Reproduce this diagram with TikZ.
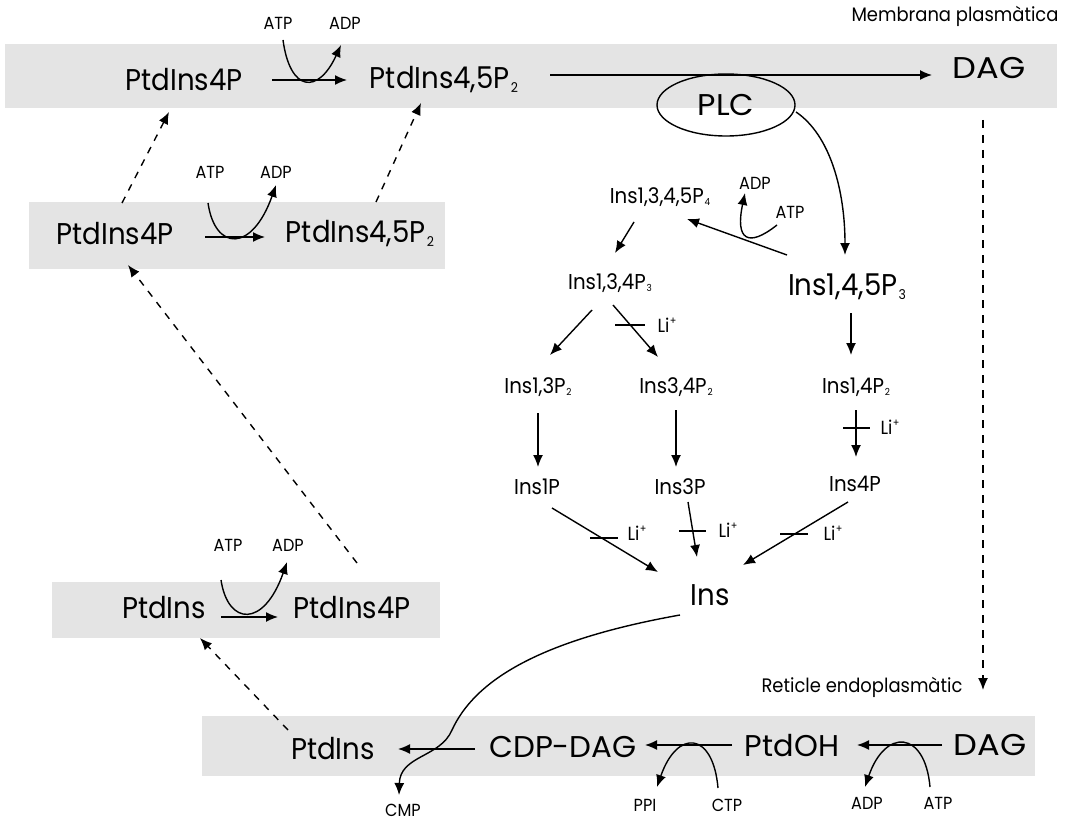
\documentclass[tikz,border=0pt]{standalone}
\usepackage{graphicx}
\usepackage{fontspec}
\setmainfont{Poppins}[FakeStretch=0.92]
\usetikzlibrary{arrows.meta,shapes.geometric,calc}
\definecolor{bandgray}{RGB}{228,228,228}
\newcommand{\sbs}[1]{\kern0.04em\raisebox{-0.12em}{\scalebox{0.45}{#1}}}
\newcommand{\sps}[1]{\kern0.03em\raisebox{0.42em}{\scalebox{0.55}{#1}}}
\newcommand{\wide}[2]{\scalebox{#1}[1]{#2}}
\begin{document}
\begin{tikzpicture}[x=1pt,y=-1pt,
 big/.style={font=\fontsize{30}{32}\selectfont, inner sep=0pt},
 mid/.style={font=\fontsize{21.5}{23}\selectfont, inner sep=0pt},
 sml/.style={font=\fontsize{17.5}{19}\selectfont, inner sep=0pt},
 lis/.style={font=\fontsize{19}{21}\selectfont, inner sep=0pt},
 lbl/.style={font=\fontsize{19.5}{21}\selectfont, inner sep=0pt},
 arr/.style={-{Latex[length=12pt,width=10pt]}, line width=1.4pt},
 dsh/.style={arr, dash pattern=on 7pt off 7pt},
 barline/.style={line width=1.4pt},
 band/.style={fill=bandgray}]
\useasboundingbox (0,0) rectangle (1075,821);
\fill[white] (0,0) rectangle (1075,821);
% bands
\fill[band] (5,44) rectangle (1057,108);
\fill[band] (29,202) rectangle (445,269);
\fill[band] (52,582) rectangle (440,638);
\fill[band] (202,716) rectangle (1035,776);
% labels
\node[lbl] (memb) at (955,16) {Membrana plasmàtica};
\node[sml] (atp1) at (278,23) {ATP};
\node[sml] (adp1) at (345,23) {ADP};
\node[big] (p1a) at (184,80) {PtdIns4P};
\node[big] (p1b) at (444,80) {PtdIns4,5P\sbs{2}};
\node[big] (dag1) at (989,68) {\wide{1.22}{DAG}};
\node[big, draw, ellipse, line width=1.4pt, minimum width=138pt, minimum height=62pt] (plc) at (726,105) {\wide{1.15}{PLC}};
\node[sml] (atp2) at (210,172) {ATP};
\node[sml] (adp2) at (276,172) {ADP};
\node[big] (p2a) at (115,234) {PtdIns4P};
\node[big] (p2b) at (360,234) {PtdIns4,5P\sbs{2}};
\node[mid] (ins1345) at (660,197) {Ins1,3,4,5P\sbs{4}};
\node[sml] (adp5) at (755,183) {ADP};
\node[sml] (atp5) at (790,212) {ATP};
\node[mid] (ins134) at (610,283) {Ins1,3,4P\sbs{3}};
\node[big] (ins145) at (847,287) {Ins1,4,5P\sbs{3}};
\node[mid] (ins13P2) at (538,387) {Ins1,3P\sbs{2}};
\node[mid] (ins34P2) at (676,387) {Ins3,4P\sbs{2}};
\node[mid] (ins14P2) at (856,387) {Ins1,4P\sbs{2}};
\node[lis] (li1) at (667,325) {Li\sps{+}};
\node[lis] (li2) at (890,427) {Li\sps{+}};
\node[mid] (ins1P) at (537,487) {Ins1P};
\node[mid] (ins3P) at (680,487) {Ins3P};
\node[mid] (ins4P) at (855,484) {Ins4P};
\node[lis] (li3) at (637,533) {Li\sps{+}};
\node[lis] (li4) at (728,530) {Li\sps{+}};
\node[lis] (li5) at (833,533) {Li\sps{+}};
\node[big] (ins) at (710,595) {Ins};
\node[sml] (atp3) at (228,545) {ATP};
\node[sml] (adp3) at (288,545) {ADP};
\node[big] (p3a) at (164,608) {PtdIns};
\node[big] (p3b) at (352,608) {PtdIns4P};
\node[lbl] (retic) at (862,687) {Reticle endoplasmàtic};
\node[big] (p4a) at (333,749) {PtdIns};
\node[big] (cdp) at (563,747) {\wide{1.12}{CDP-DAG}};
\node[big] (ptdoh) at (792,746) {\wide{1.1}{PtdOH}};
\node[big] (dag4) at (990,745) {\wide{1.22}{DAG}};
\node[sml] (cmp) at (403,810) {CMP};
\node[sml] (ppi) at (645,805) {PPI};
\node[sml] (ctp) at (727,805) {CTP};
\node[sml] (adp4) at (867,803) {ADP};
\node[sml] (atp4) at (938,803) {ATP};
% row 1
\draw[arr] ($(p1a)+(88,0)$) -- ($(p1b)+(-97,0)$);
\draw[arr] ($(atp1)+(5,17)$) .. controls (290,92) and (318,95) .. ($(adp1)+(-4,22)$);
\draw[arr] ($(p1b)+(106,-5)$) -- ($(dag1)+(-57,7)$);
% row 2
\draw[arr] ($(p2a)+(90,3)$) -- ($(p2b)+(-95,3)$);
\draw[arr] ($(atp2)+(-2,31)$) .. controls (215,251) and (252,253) .. ($(adp2)+(0,13)$);
% row 3
\draw[arr] ($(p3a)+(57,9)$) -- ($(p3b)+(-74,9)$);
\draw[arr] ($(atp3)+(-7,35)$) .. controls (228,626) and (264,628) .. ($(adp3)+(-1,17)$);
% row 4
\draw[arr] ($(dag4)+(-48,0)$) -- ($(ptdoh)+(65,-1)$);
\draw[arr] ($(ptdoh)+(-60,-1)$) -- ($(cdp)+(82,-2)$);
\draw[arr] ($(cdp)+(-88,2)$) -- ($(p4a)+(65,0)$);
\draw[arr] ($(atp4)+(-8,-16)$) .. controls (925,730) and (885,728) .. ($(adp4)+(-2,-16)$);
\draw[arr] ($(ctp)+(-9,-17)$) .. controls (713,731) and (677,729) .. ($(ppi)+(12,-18)$);
\draw[arr] ($(ins)+(-30,20)$) .. controls (540,640) and (475,680) .. (452,730) .. controls (440,758) and (400,755) .. ($(cmp)+(-4,-15)$);
% dashed transfers
\draw[dsh] ($(p2a)+(7,-31)$) -- ($(p1a)+(-15,32)$);
\draw[dsh] ($(p2b)+(16,-32)$) -- ($(p1b)+(-23,23)$);
\draw[dsh] ($(p3b)+(5,-45)$) -- ($(p2a)+(13,31)$);
\draw[dsh] ($(p4a)+(-45,-19)$) -- ($(p3a)+(36,30)$);
\draw[arr, dash pattern=on 8pt off 7pt] ($(dag1)+(-6,52)$) -- ($(dag4)+(-7,-55)$);
% inositol phosphate network
\draw[arr] ($(plc)+(70,7)$) .. controls (830,135) and (845,190) .. ($(ins145)+(-2,-32)$);
\draw[arr] ($(ins145)+(-60,-32)$) -- ($(ins1345)+(27,22)$);
\draw[arr] ($(atp5)+(-13,13)$) .. controls (748,248) and (735,240) .. ($(adp5)+(-10,10)$);
\draw[arr] ($(ins1345)+(-26,25)$) -- ($(ins134)+(5,-30)$);
\draw[arr] ($(ins134)+(-18,27)$) -- ($(ins13P2)+(12,-32)$);
\draw[arr] ($(ins134)+(3,22)$) -- ($(ins34P2)+(-18,-30)$);
\draw[barline] ($(li1)+(-52,0)$) -- ($(li1)+(-22,0)$);
\draw[arr] ($(ins145)+(4,26)$) -- ($(ins14P2)+(-5,-32)$);
\draw[arr] ($(ins13P2)+(0,26)$) -- ($(ins1P)+(1,-20)$);
\draw[arr] ($(ins34P2)+(0,23)$) -- ($(ins3P)+(-4,-20)$);
\draw[arr] ($(ins14P2)+(0,23)$) -- ($(ins4P)+(1,-27)$);
\draw[barline] ($(li2)+(-47,1)$) -- ($(li2)+(-20,1)$);
\draw[arr] ($(ins1P)+(15,21)$) -- ($(ins)+(-52,-23)$);
\draw[barline] ($(li3)+(-47,5)$) -- ($(li3)+(-19,5)$);
\draw[arr] ($(ins3P)+(8,15)$) -- ($(ins)+(-13,-38)$);
\draw[barline] ($(li4)+(-49,1)$) -- ($(li4)+(-22,1)$);
\draw[arr] ($(ins4P)+(-7,18)$) -- ($(ins)+(33,-30)$);
\draw[barline] ($(li5)+(-53,1)$) -- ($(li5)+(-25,1)$);
\end{tikzpicture}
\end{document}
